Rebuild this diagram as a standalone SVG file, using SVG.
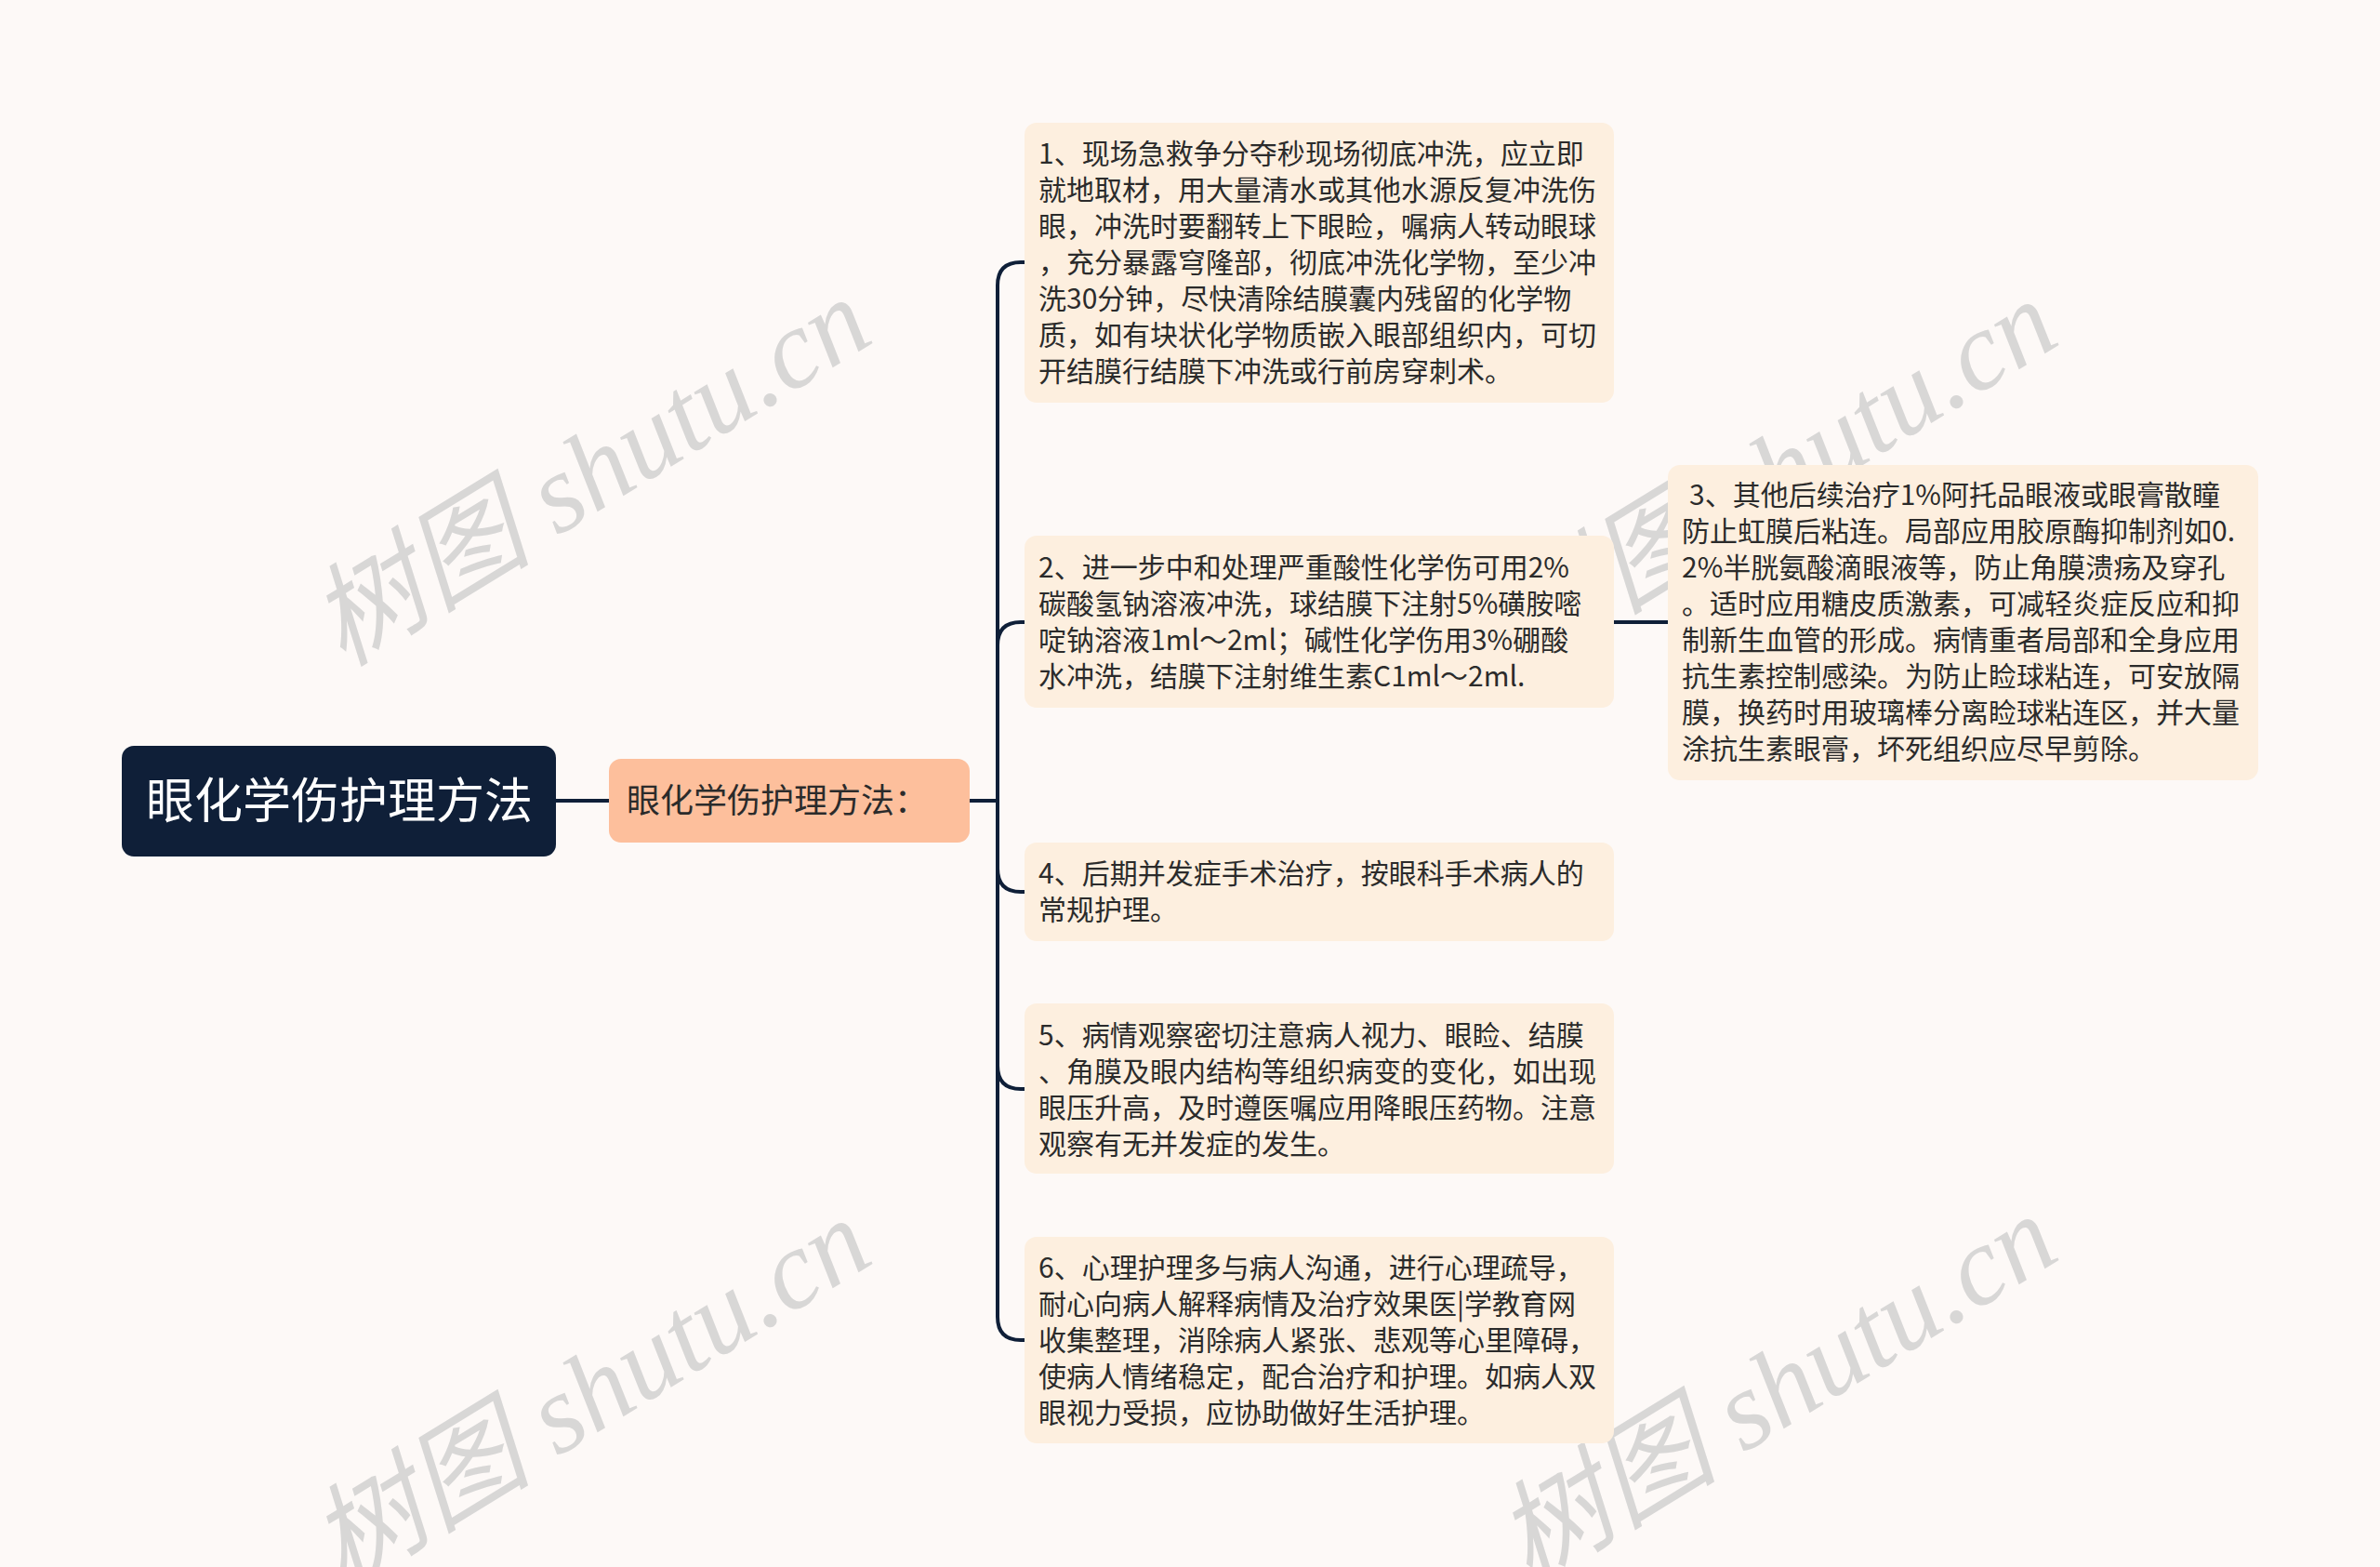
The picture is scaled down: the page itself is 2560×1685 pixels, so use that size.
<svg xmlns="http://www.w3.org/2000/svg" width="2560" height="1685" viewBox="0 0 2560 1685">
<style>
.bg{fill:#FDF9F7}
.root{fill:#0F1F38}
.sub{fill:#FDBF9C}
.leaf{fill:#FDEFDF}
.rt{font-family:"Noto Sans CJK SC","Noto Sans",sans-serif;font-size:52px;fill:#FFFFFF}
.st{font-family:"Noto Sans CJK SC","Noto Sans",sans-serif;font-size:36px;fill:#2B2B2B}
.lt{font-family:"Noto Sans CJK SC","Noto Sans",sans-serif;font-size:30px;fill:#2B2B2B}
.ln{fill:none;stroke:#0F1F38;stroke-width:4;stroke-linecap:round}
.wm{font-family:"Liberation Serif","Noto Sans CJK SC",serif;font-style:italic;font-size:120px;fill:#CCCCCC;opacity:0.75}
</style>
<rect class="bg" x="0" y="0" width="2560" height="1685"/>
<g id="watermarks">
<text class="wm" text-anchor="middle" transform="translate(656,542) rotate(-31.5)">树图 shutu.cn</text>
<text class="wm" text-anchor="middle" transform="translate(1932,544) rotate(-31.5)">树图 shutu.cn</text>
<text class="wm" text-anchor="middle" transform="translate(656,1532) rotate(-31.5)">树图 shutu.cn</text>
<text class="wm" text-anchor="middle" transform="translate(1932,1528) rotate(-31.5)">树图 shutu.cn</text>
</g>
<g id="connectors">
<path class="ln" d="M598 861 H655"/>
<path class="ln" d="M1043 861 H1073"/>
<path class="ln" d="M1073 861 V307 Q1073 282 1098 282 H1102"/>
<path class="ln" d="M1073 861 V694 Q1073 669 1098 669 H1102"/>
<path class="ln" d="M1073 861 V934 Q1073 959 1098 959 H1102"/>
<path class="ln" d="M1073 861 V1146 Q1073 1171 1098 1171 H1102"/>
<path class="ln" d="M1073 861 V1416 Q1073 1441 1098 1441 H1102"/>
<path class="ln" d="M1736 669 H1794"/>
</g>
<g id="root">
<rect class="root" x="131" y="802" width="467" height="119" rx="13"/>
<text class="rt" x="365" y="880" text-anchor="middle">眼化学伤护理方法</text>
</g>
<g id="sub">
<rect class="sub" x="655" y="816" width="388" height="90" rx="13"/>
<text class="st" x="674" y="874">眼化学伤护理方法：</text>
</g>
<g id="n1">
<rect class="leaf" x="1102" y="132" width="634" height="301" rx="13"/>
<text class="lt" x="1117" y="176">1、现场急救争分夺秒现场彻底冲洗，应立即</text>
<text class="lt" x="1117" y="215">就地取材，用大量清水或其他水源反复冲洗伤</text>
<text class="lt" x="1117" y="254">眼，冲洗时要翻转上下眼睑，嘱病人转动眼球</text>
<text class="lt" x="1117" y="293">，充分暴露穹隆部，彻底冲洗化学物，至少冲</text>
<text class="lt" x="1117" y="332">洗30分钟，尽快清除结膜囊内残留的化学物</text>
<text class="lt" x="1117" y="371">质，如有块状化学物质嵌入眼部组织内，可切</text>
<text class="lt" x="1117" y="410">开结膜行结膜下冲洗或行前房穿刺术。</text>
</g>
<g id="n2">
<rect class="leaf" x="1102" y="576" width="634" height="185" rx="13"/>
<text class="lt" x="1117" y="621">2、进一步中和处理严重酸性化学伤可用2%</text>
<text class="lt" x="1117" y="660">碳酸氢钠溶液冲洗，球结膜下注射5%磺胺嘧</text>
<text class="lt" x="1117" y="699">啶钠溶液1ml～2ml；碱性化学伤用3%硼酸</text>
<text class="lt" x="1117" y="738">水冲洗，结膜下注射维生素C1ml～2ml.</text>
</g>
<g id="n3">
<rect class="leaf" x="1794" y="500" width="635" height="339" rx="13"/>
<text class="lt" x="1817" y="543">3、其他后续治疗1%阿托品眼液或眼膏散瞳</text>
<text class="lt" x="1809" y="582">防止虹膜后粘连。局部应用胶原酶抑制剂如0.</text>
<text class="lt" x="1809" y="621">2%半胱氨酸滴眼液等，防止角膜溃疡及穿孔</text>
<text class="lt" x="1809" y="660">。适时应用糖皮质激素，可减轻炎症反应和抑</text>
<text class="lt" x="1809" y="699">制新生血管的形成。病情重者局部和全身应用</text>
<text class="lt" x="1809" y="738">抗生素控制感染。为防止睑球粘连，可安放隔</text>
<text class="lt" x="1809" y="777">膜，换药时用玻璃棒分离睑球粘连区，并大量</text>
<text class="lt" x="1809" y="816">涂抗生素眼膏，坏死组织应尽早剪除。</text>
</g>
<g id="n4">
<rect class="leaf" x="1102" y="906" width="634" height="106" rx="13"/>
<text class="lt" x="1117" y="950">4、后期并发症手术治疗，按眼科手术病人的</text>
<text class="lt" x="1117" y="989">常规护理。</text>
</g>
<g id="n5">
<rect class="leaf" x="1102" y="1079" width="634" height="183" rx="13"/>
<text class="lt" x="1117" y="1124">5、病情观察密切注意病人视力、眼睑、结膜</text>
<text class="lt" x="1117" y="1163">、角膜及眼内结构等组织病变的变化，如出现</text>
<text class="lt" x="1117" y="1202">眼压升高，及时遵医嘱应用降眼压药物。注意</text>
<text class="lt" x="1117" y="1241">观察有无并发症的发生。</text>
</g>
<g id="n6">
<rect class="leaf" x="1102" y="1330" width="634" height="222" rx="13"/>
<text class="lt" x="1117" y="1374">6、心理护理多与病人沟通，进行心理疏导，</text>
<text class="lt" x="1117" y="1413">耐心向病人解释病情及治疗效果医|学教育网</text>
<text class="lt" x="1117" y="1452">收集整理，消除病人紧张、悲观等心里障碍，</text>
<text class="lt" x="1117" y="1491">使病人情绪稳定，配合治疗和护理。如病人双</text>
<text class="lt" x="1117" y="1530">眼视力受损，应协助做好生活护理。</text>
</g>
</svg>
